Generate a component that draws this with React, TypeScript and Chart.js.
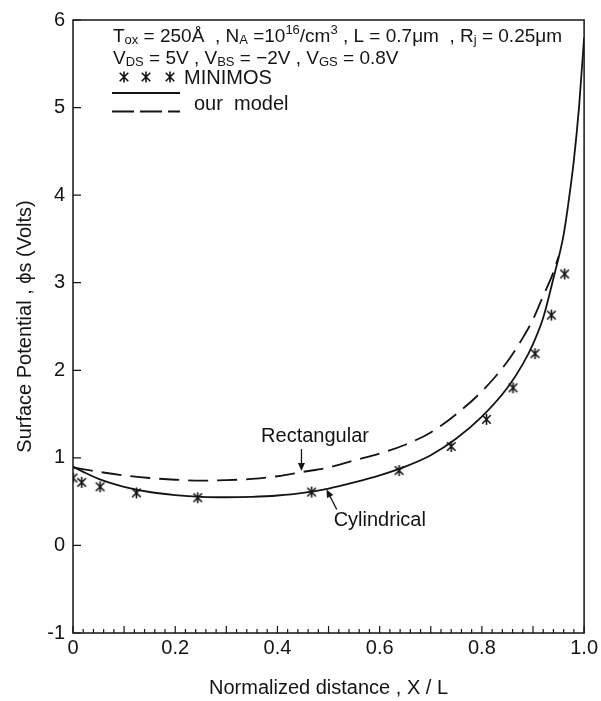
import React, { useEffect, useRef } from 'react';
import { Chart, registerables } from 'chart.js';

Chart.register(...registerables);

// ---------- data ----------
const minimosX = [0, 0.017, 0.053, 0.124, 0.244, 0.467, 0.638, 0.74, 0.809, 0.861, 0.904, 0.936, 0.962];
const minimosY = [0.77, 0.72, 0.67, 0.6, 0.545, 0.61, 0.855, 1.13, 1.44, 1.8, 2.19, 2.63, 3.1];

const cylX = [0, 0.02, 0.05, 0.1, 0.15, 0.2, 0.25, 0.3, 0.35, 0.4, 0.45, 0.5, 0.55, 0.6, 0.65, 0.7, 0.75, 0.8, 0.85, 0.88, 0.9, 0.92, 0.94, 0.96, 0.97, 0.98, 0.99, 1.0];
const cylY = [0.9, 0.84, 0.76, 0.67, 0.61, 0.575, 0.555, 0.55, 0.555, 0.57, 0.6, 0.65, 0.72, 0.8, 0.9, 1.03, 1.22, 1.47, 1.8, 2.07, 2.3, 2.6, 3.05, 3.55, 3.94, 4.4, 5.0, 5.8];

const rectX = [0, 0.04, 0.1, 0.15, 0.2, 0.25, 0.3, 0.35, 0.4, 0.45, 0.5, 0.55, 0.6, 0.65, 0.7, 0.75, 0.8, 0.85, 0.88, 0.9, 0.92, 0.94, 0.95];
const rectY = [0.89, 0.85, 0.8, 0.77, 0.75, 0.74, 0.745, 0.76, 0.79, 0.84, 0.89, 0.97, 1.05, 1.15, 1.29, 1.5, 1.76, 2.1, 2.37, 2.58, 2.85, 3.12, 3.3];

const xTicks = [0, 0.2, 0.4, 0.6, 0.8, 1.0];
const xTickLabels = ['0', '0.2', '0.4', '0.6', '0.8', '1.0'];
const yTicks = [-1, 0, 1, 2, 3, 4, 5, 6];
const yTickLabels = ['-1', '0', '1', '2', '3', '4', '5', '6'];

const xTitle = 'Normalized distance , X / L';
const yTitle = 'Surface Potential , \u03D5s (Volts)';

const INK = '#141414';
const FONT = "'Liberation Sans', Arial, sans-serif";

function drawStar(ctx: CanvasRenderingContext2D, x: number, y: number, r: number, lw: number) {
  ctx.save();
  ctx.strokeStyle = INK;
  ctx.lineWidth = lw;
  ctx.lineCap = 'butt';
  ctx.beginPath();
  ctx.moveTo(x, y - r);
  ctx.lineTo(x, y + r);
  const d = r * 0.78;
  ctx.moveTo(x - d, y - d);
  ctx.lineTo(x + d, y + d);
  ctx.moveTo(x + d, y - d);
  ctx.lineTo(x - d, y + d);
  ctx.stroke();
  ctx.restore();
}

type Part = [string, 'n' | 'sub' | 'sup'];

function drawRich(ctx: CanvasRenderingContext2D, parts: Part[], x: number, y: number, size: number) {
  let cx = x;
  ctx.textBaseline = 'alphabetic';
  ctx.textAlign = 'left';
  for (const [t, k] of parts) {
    const fs = k === 'n' ? size : Math.round(size * 0.68);
    ctx.font = `${fs}px ${FONT}`;
    const dy = k === 'sub' ? 2 : k === 'sup' ? -8 : 0;
    ctx.fillText(t, cx, y + dy);
    cx += ctx.measureText(t).width;
  }
}

function arrow(ctx: CanvasRenderingContext2D, x0: number, y0: number, x1: number, y1: number) {
  const ang = Math.atan2(y1 - y0, x1 - x0);
  const hl = 8, hw = 3.5;
  ctx.beginPath();
  ctx.moveTo(x0, y0);
  ctx.lineTo(x1 - Math.cos(ang) * hl * 0.6, y1 - Math.sin(ang) * hl * 0.6);
  ctx.stroke();
  ctx.beginPath();
  ctx.moveTo(x1, y1);
  ctx.lineTo(x1 - Math.cos(ang) * hl - Math.sin(ang) * hw, y1 - Math.sin(ang) * hl + Math.cos(ang) * hw);
  ctx.lineTo(x1 - Math.cos(ang) * hl + Math.sin(ang) * hw, y1 - Math.sin(ang) * hl - Math.cos(ang) * hw);
  ctx.closePath();
  ctx.fill();
}

const framePlugin = {
  id: 'frame',
  afterDatasetsDraw(chart: any) {
    const { ctx, chartArea: a, scales } = chart;
    const x = scales.x, y = scales.y;
    ctx.save();
    ctx.strokeStyle = INK;
    ctx.lineWidth = 1.5;
    ctx.strokeRect(a.left, a.top, a.right - a.left, a.bottom - a.top);
    ctx.lineWidth = 1.2;
    ctx.beginPath();
    for (const v of yTicks) {
      const py = y.getPixelForValue(v);
      ctx.moveTo(a.left, py);
      ctx.lineTo(a.left + 8, py);
    }
    for (let i = 0; i <= 50; i++) {
      const px = x.getPixelForValue(i / 50);
      const len = i % 5 === 0 ? 7 : 4;
      ctx.moveTo(px, a.bottom);
      ctx.lineTo(px, a.bottom - len);
    }
    ctx.stroke();
    ctx.restore();
  },
};

const notesPlugin = {
  id: 'notes',
  afterDraw(chart: any) {
    const { ctx, chartArea: a, scales } = chart;
    const X = (v: number) => scales.x.getPixelForValue(v);
    const Y = (v: number) => scales.y.getPixelForValue(v);
    ctx.save();
    ctx.fillStyle = INK;
    ctx.strokeStyle = INK;

    // legend block
    const lx = a.left + 40;
    drawRich(ctx, [
      ['T', 'n'], ['ox', 'sub'], [' = 250\u00C5  , N', 'n'], ['A', 'sub'], [' =10', 'n'], ['16', 'sup'],
      ['/cm', 'n'], ['3', 'sup'], [' , L = 0.7\u03BCm  , R', 'n'], ['j', 'sub'], [' = 0.25\u03BCm', 'n'],
    ], lx, a.top + 22, 19);
    drawRich(ctx, [
      ['V', 'n'], ['DS', 'sub'], [' = 5V , V', 'n'], ['BS', 'sub'], [' = \u22122V , V', 'n'], ['GS', 'sub'], [' = 0.8V', 'n'],
    ], lx, a.top + 44, 19);
    const ry = a.top + 57;
    drawStar(ctx, lx + 11, ry, 5.5, 1.6);
    drawStar(ctx, lx + 33, ry, 5.5, 1.6);
    drawStar(ctx, lx + 57, ry, 5.5, 1.6);
    drawRich(ctx, [['MINIMOS', 'n']], lx + 71, ry + 7, 20);
    ctx.lineWidth = 1.8;
    ctx.beginPath();
    ctx.moveTo(lx - 1, a.top + 73);
    ctx.lineTo(lx + 67, a.top + 73);
    ctx.stroke();
    ctx.setLineDash([22, 6]);
    ctx.beginPath();
    ctx.moveTo(lx - 1, a.top + 91.5);
    ctx.lineTo(lx + 67, a.top + 91.5);
    ctx.stroke();
    ctx.setLineDash([]);
    drawRich(ctx, [['our  model', 'n']], lx + 81, a.top + 90, 20);

    // annotations
    ctx.font = `20px ${FONT}`;
    ctx.textBaseline = 'middle';
    ctx.textAlign = 'left';
    ctx.fillText('Rectangular', X(0.368), Y(1.24));
    ctx.fillText('Cylindrical', X(0.51), Y(0.28));
    ctx.lineWidth = 1.3;
    arrow(ctx, X(0.447), Y(1.1), X(0.447), Y(0.85));
    arrow(ctx, X(0.516), Y(0.41), X(0.496), Y(0.64));
    ctx.restore();
  },
};

export default function App() {
  const ref = useRef<HTMLCanvasElement>(null);
  useEffect(() => {
    const canvas = ref.current!;
    const starImg = document.createElement('canvas');
    starImg.width = 13;
    starImg.height = 13;
    drawStar(starImg.getContext('2d')!, 6.5, 6.5, 5.5, 1.6);

    const toXY = (xs: number[], ys: number[]) => xs.map((x, i) => ({ x, y: ys[i] }));

    const chart = new Chart(canvas, {
      type: 'scatter',
      data: {
        datasets: [
          {
            label: 'Cylindrical',
            data: toXY(cylX, cylY),
            showLine: true,
            borderColor: INK,
            borderWidth: 1.8,
            pointRadius: 0,
            cubicInterpolationMode: 'monotone',
            fill: false,
          } as any,
          {
            label: 'Rectangular',
            data: toXY(rectX, rectY),
            showLine: true,
            borderColor: INK,
            borderWidth: 1.8,
            borderDash: [20, 9],
            pointRadius: 0,
            cubicInterpolationMode: 'monotone',
            fill: false,
          } as any,
          {
            label: 'MINIMOS',
            data: toXY(minimosX, minimosY),
            showLine: false,
            pointStyle: starImg,
            pointRadius: 6,
            borderColor: INK,
            backgroundColor: INK,
          } as any,
        ],
      },
      options: {
        responsive: false,
        animation: false,
        layout: { padding: { left: 0, right: 14, top: 18, bottom: 0 } },
        plugins: { legend: { display: false }, tooltip: { enabled: false } },
        scales: {
          x: {
            type: 'linear',
            min: 0,
            max: 1,
            grid: { display: false, drawTicks: false },
            border: { display: false },
            afterBuildTicks: (s: any) => {
              s.ticks = xTicks.map((v) => ({ value: v }));
            },
            afterFit: (s: any) => {
              s.height = 68;
            },
            ticks: {
              autoSkip: false,
              maxRotation: 0,
              padding: 3,
              color: INK,
              font: { size: 20, family: FONT },
              callback: (v: any) => {
                const i = xTicks.indexOf(Number(v));
                return i >= 0 ? xTickLabels[i] : '';
              },
            },
            title: {
              display: true,
              text: xTitle,
              color: INK,
              font: { size: 20, family: FONT },
              padding: { top: 0, bottom: 1 },
            },
          },
          y: {
            type: 'linear',
            min: -1,
            max: 6,
            grid: { display: false, drawTicks: false },
            border: { display: false },
            afterBuildTicks: (s: any) => {
              s.ticks = yTicks.map((v) => ({ value: v }));
            },
            afterFit: (s: any) => {
              s.width = 73;
            },
            ticks: {
              autoSkip: false,
              padding: 8,
              color: INK,
              font: { size: 20, family: FONT },
              callback: (v: any) => {
                const i = yTicks.indexOf(Number(v));
                return i >= 0 ? yTickLabels[i] : '';
              },
            },
            title: {
              display: true,
              text: yTitle,
              color: INK,
              font: { size: 20, family: FONT },
              padding: { top: 13, bottom: 0 },
            },
          },
        },
      } as any,
      plugins: [framePlugin, notesPlugin],
    });
    return () => chart.destroy();
  }, []);

  return (
    <div style={{ position: 'absolute', left: 0, top: 0, width: 601, height: 701, background: '#fff' }}>
      <canvas ref={ref} width={601} height={701} style={{ display: 'block', width: 601, height: 701 }} />
    </div>
  );
}
